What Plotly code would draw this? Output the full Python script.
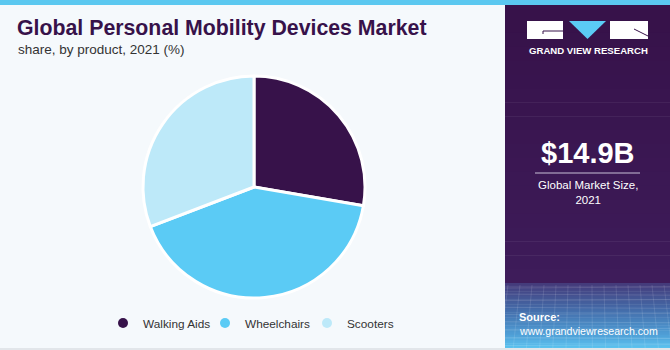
import plotly.graph_objects as go

# ---- data ----
categories = ["Walking Aids", "Wheelchairs", "Scooters"]
shares = [27.7, 41.5, 30.8]
colors = ["#37124A", "#5BCBF5", "#BDE9F9"]
title_text = "Global Personal Mobility Devices Market"
subtitle_text = "share, by product, 2021 (%)"
market_value = "$14.9B"
market_label = "Global Market Size,<br>2021"
source_label = "Source:"
source_url = "www.grandviewresearch.com"
brand = "GRAND VIEW RESEARCH"

W, H = 670, 350
def px(x): return x / W
def py(y): return 1 - y / H

FONT = "Liberation Sans, Arial"

fig = go.Figure()

cx, cy, r = 254, 187, 111
fig.add_trace(go.Pie(
    labels=categories, values=shares, sort=False, direction="clockwise", rotation=0,
    marker=dict(colors=colors, line=dict(color="#FFFFFF", width=3)),
    textinfo="none", hoverinfo="label+percent", showlegend=False,
    domain=dict(x=[px(cx - r), px(cx + r)], y=[py(cy + r), py(cy - r)]),
))

for name, col in zip(categories, colors):
    fig.add_trace(go.Scatter(x=[None], y=[None], mode="markers", name=name,
                             marker=dict(color=col, size=10, symbol="circle")))

def rect(x0, y0, x1, y1, color, layer="above"):
    return dict(type="rect", xref="paper", yref="paper", x0=px(x0), x1=px(x1),
                y0=py(y1), y1=py(y0), fillcolor=color, line=dict(width=0), layer=layer)

def line(x0, y0, x1, y1, color, width=1):
    return dict(type="line", xref="paper", yref="paper", x0=px(x0), x1=px(x1),
                y0=py(y0), y1=py(y1), line=dict(color=color, width=width))

shapes = []
# right panel (purple, slight gradient downwards)
n = 20
pa = (0x37, 0x12, 0x4A)
pb = (0x3E, 0x1C, 0x5A)
for i in range(n):
    t = i / (n - 1)
    c = tuple(int(pa[k] + (pb[k] - pa[k]) * t) for k in range(3))
    y0 = 5 + (283 - 5) * i / n
    y1 = 5 + (283 - 5) * (i + 1) / n + 0.5
    shapes.append(rect(505, y0, 670, y1, "rgb(%d,%d,%d)" % c, layer="below"))
# bottom gradient area
stops = [(283, (70, 58, 122)), (310, (68, 108, 170)), (335, (80, 160, 215)), (348, (92, 196, 240))]
m = 40
for i in range(m):
    y0 = 283 + (348 - 283) * i / m
    y1 = 283 + (348 - 283) * (i + 1) / m + 0.5
    yc = (y0 + y1) / 2
    for j in range(len(stops) - 1):
        if stops[j][0] <= yc <= stops[j + 1][0]:
            t = (yc - stops[j][0]) / (stops[j + 1][0] - stops[j][0])
            c = tuple(int(stops[j][1][k] + (stops[j + 1][1][k] - stops[j][1][k]) * t) for k in range(3))
            break
    shapes.append(rect(505, y0, 670, y1, "rgb(%d,%d,%d)" % c, layer="below"))
# faint mesh lines
for i in range(10):
    yy = 288 + i * 6 + i * i * 0.15
    shapes.append(line(505, yy, 670, yy + (1 if i % 2 else -1), "rgba(255,255,255,0.13)"))
for i in range(14):
    xx = 508 + i * 12
    shapes.append(line(xx, 285, xx - 8 + i * 1.2, 348, "rgba(255,255,255,0.11)"))
# bottom border
shapes.append(rect(0, 348, 670, 350, "#E2E6EA"))
# top stripe
shapes.append(rect(0, 0, 670, 5, "#5BC8F0"))
# logo
shapes.append(rect(527, 21, 563, 39, "#FFFFFF"))
shapes.append(dict(type="path", xref="paper", yref="paper",
                   path="M %f,%f L %f,%f L %f,%f Z" % (px(569), py(21), px(606), py(21), px(587.5), py(39)),
                   fillcolor="#5BCBF5", line=dict(width=0)))
shapes.append(rect(610, 21, 648, 39, "#FFFFFF"))
shapes.append(line(543, 31, 563, 31, "#37124A"))
shapes.append(line(543, 31, 543, 34, "#37124A"))
shapes.append(line(634, 29, 648, 36, "#37124A"))
# divider under value
shapes.append(line(535, 173, 640, 173, "#C9BFD6"))

def ann(text, x, y, size, color="#FFFFFF", xanchor="left"):
    return dict(text=text, x=px(x), y=py(y), xref="paper", yref="paper",
                xanchor=xanchor, yanchor="middle", showarrow=False,
                font=dict(size=size, color=color, family=FONT))

annotations = [
    ann("<b>" + title_text + "</b>", 15, 28, 21.3, "#37124A"),
    ann(subtitle_text, 16, 50, 13.5, "#333333"),
    ann("<b>" + brand + "</b>", 588, 51, 9.6, xanchor="center"),
    ann("<b>" + market_value + "</b>", 588, 153, 29, xanchor="center"),
    ann(market_label, 588, 193, 11.5, xanchor="center"),
    ann("<b>" + source_label + "</b>", 517, 317, 11),
    ann(source_url, 517, 331, 10.6),
]

fig.update_layout(
    width=W, height=H, margin=dict(l=0, r=0, t=0, b=0),
    paper_bgcolor="#F5F9FC", plot_bgcolor="rgba(0,0,0,0)",
    xaxis=dict(visible=False), yaxis=dict(visible=False),
    shapes=shapes, annotations=annotations,
    legend=dict(orientation="h", x=px(103), y=py(323), xanchor="left", yanchor="middle",
                font=dict(size=11.8, color="#333333", family=FONT),
                bgcolor="rgba(0,0,0,0)", itemwidth=30,
                entrywidth=57, entrywidthmode="pixels"),
)

fig.write_html("out.html")
